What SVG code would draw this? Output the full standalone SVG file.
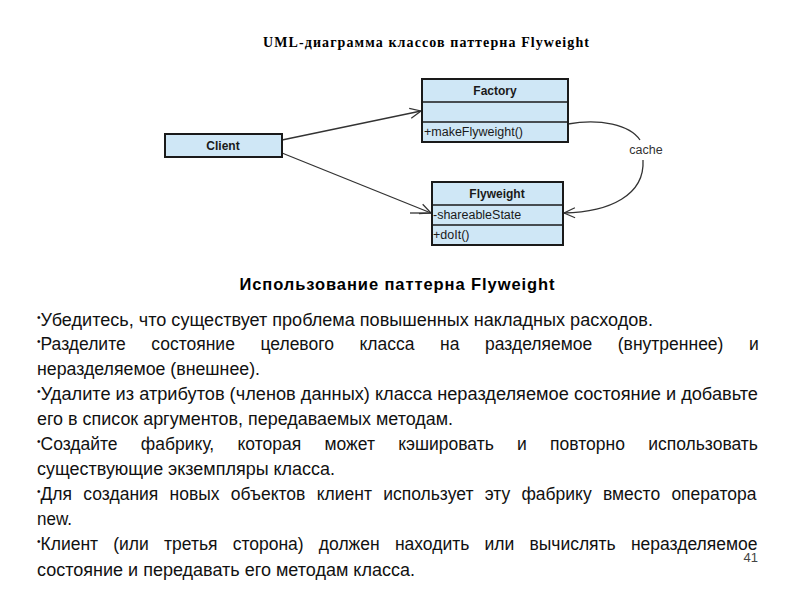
<svg xmlns="http://www.w3.org/2000/svg" width="800" height="600" viewBox="0 0 800 600">
<style>
.box{fill:#cfe7f6;stroke:#1a1a1a;stroke-width:2}
.sep{stroke:#1a1a1a;stroke-width:1.5}
.cn{font-family:"Liberation Sans",Arial,sans-serif;font-weight:bold;font-size:12px;fill:#1a1a1a;text-anchor:middle}
.mb{font-family:"Liberation Sans",Arial,sans-serif;font-size:12.5px;fill:#1a1a1a}
.edge{fill:none;stroke:#333;stroke-width:1.3}
.body{font-family:"Liberation Sans",Arial,sans-serif;font-size:17.5px;fill:#111}
.bul{font-size:10px}
</style>
<defs>
<marker id="open" markerWidth="14" markerHeight="12" refX="12" refY="6" orient="auto" markerUnits="userSpaceOnUse">
<path d="M1,1 L12,6 L1,11" fill="none" stroke="#333" stroke-width="1.2"/>
</marker>
</defs>
<rect width="800" height="600" fill="#fff"/>
<text x="426" y="47" font-family="Liberation Serif,Times New Roman,serif" font-weight="bold" font-size="14" text-anchor="middle" textLength="326" lengthAdjust="spacing">UML-диаграмма классов паттерна Flyweight</text>
<g id="connectors">
<line class="edge" x1="282" y1="140" x2="421" y2="111" marker-end="url(#open)"/>
<line class="edge" x1="282" y1="153" x2="431" y2="213" marker-end="url(#open)"/>
<line class="edge" x1="410" y1="213" x2="431" y2="213"/>
<path class="edge" d="M568,124 C600,118 630,125 640,140"/>
<path class="edge" d="M643,160 C645,195 610,212 564,213" marker-end="url(#open)"/>
<text x="646" y="154" font-family="Liberation Sans,Arial,sans-serif" font-size="12.5" fill="#333" text-anchor="middle">cache</text>
</g>
<g id="client">
<rect class="box" x="165" y="134" width="117" height="23"/>
<text class="cn" x="223" y="150">Client</text>
</g>
<g id="factory">
<rect class="box" x="422" y="79" width="146" height="63"/>
<line class="sep" x1="422" y1="102" x2="568" y2="102"/>
<line class="sep" x1="422" y1="122" x2="568" y2="122"/>
<text class="cn" x="495" y="95">Factory</text>
<text class="mb" x="424" y="136">+makeFlyweight()</text>
</g>
<g id="flyweight">
<rect class="box" x="432" y="182" width="131" height="63"/>
<line class="sep" x1="432" y1="205" x2="563" y2="205"/>
<line class="sep" x1="432" y1="225" x2="563" y2="225"/>
<text class="cn" x="497" y="198">Flyweight</text>
<text class="mb" x="433" y="219">-shareableState</text>
<text class="mb" x="433" y="239">+doIt()</text>
</g>
<text x="397" y="290" font-family="Liberation Sans,Arial,sans-serif" font-weight="bold" font-size="16.5" text-anchor="middle" textLength="315" lengthAdjust="spacing">Использование паттерна Flyweight</text>
<g class="body">
<text x="37" y="326" textLength="616" lengthAdjust="spacingAndGlyphs"><tspan class="bul" dy="-5">•</tspan><tspan dy="5">Убедитесь, что существует проблема повышенных накладных расходов.</tspan></text>
<text x="37" y="350" word-spacing="20.7"><tspan class="bul" dy="-5">•</tspan><tspan dy="5">Разделите состояние целевого класса на разделяемое (внутреннее) и</tspan></text>
<text x="37" y="375" textLength="223" lengthAdjust="spacingAndGlyphs">неразделяемое (внешнее).</text>
<text x="37" y="400" textLength="721" lengthAdjust="spacingAndGlyphs"><tspan class="bul" dy="-5">•</tspan><tspan dy="5">Удалите из атрибутов (членов данных) класса неразделяемое состояние и добавьте</tspan></text>
<text x="37" y="425" textLength="416" lengthAdjust="spacingAndGlyphs">его в список аргументов, передаваемых методам.</text>
<text x="37" y="450" word-spacing="18.4"><tspan class="bul" dy="-5">•</tspan><tspan dy="5">Создайте фабрику, которая может кэшировать и повторно использовать</tspan></text>
<text x="37" y="475" textLength="298" lengthAdjust="spacingAndGlyphs">существующие экземпляры класса.</text>
<text x="37" y="500" word-spacing="6.4"><tspan class="bul" dy="-5">•</tspan><tspan dy="5">Для создания новых объектов клиент использует эту фабрику вместо оператора</tspan></text>
<text x="37" y="525" textLength="35" lengthAdjust="spacingAndGlyphs">new.</text>
<text x="37" y="550" word-spacing="10.3"><tspan class="bul" dy="-5">•</tspan><tspan dy="5">Клиент (или третья сторона) должен находить или вычислять неразделяемое</tspan></text>
<text x="37" y="576" textLength="378" lengthAdjust="spacingAndGlyphs">состояние и передавать его методам класса.</text>
</g>
<text x="758" y="562" font-family="Liberation Sans,Arial,sans-serif" font-size="13" fill="#444" text-anchor="end">41</text>
</svg>
